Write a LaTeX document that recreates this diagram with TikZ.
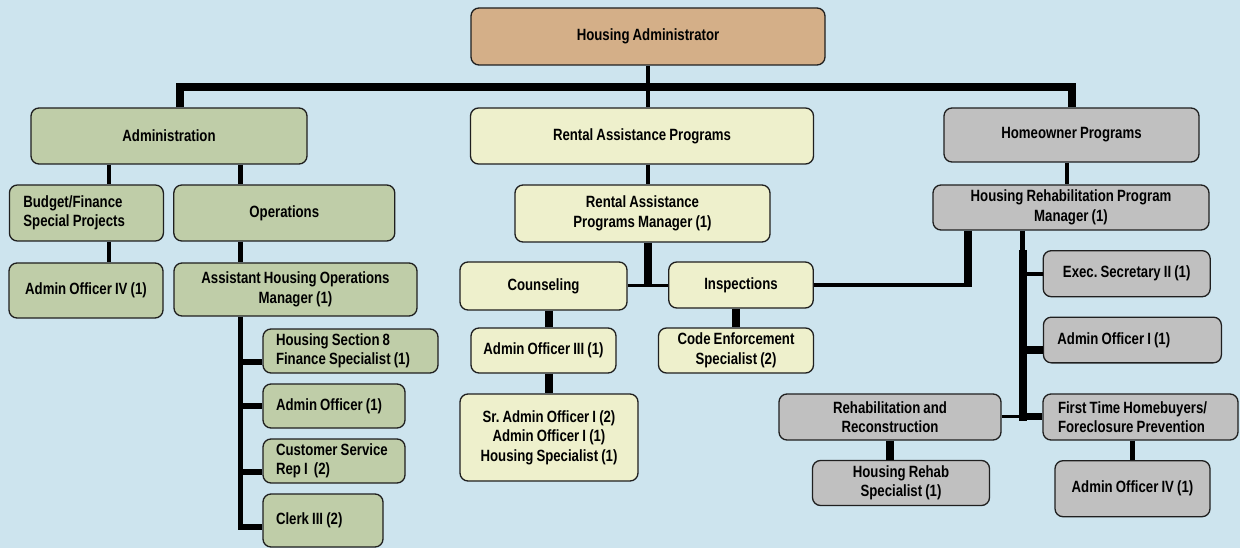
\documentclass[tikz,border=0pt]{standalone}
\usepackage{fontspec}
\setmainfont{Liberation Sans}[FakeStretch=0.81,WordSpace=0.85]
\definecolor{bgc}{RGB}{205,228,238}
\definecolor{tanc}{RGB}{212,175,136}
\definecolor{grnc}{RGB}{191,205,168}
\definecolor{ylwc}{RGB}{238,240,204}
\definecolor{gryc}{RGB}{192,192,192}
\tikzset{
  box/.style={draw=black!88, line width=1.3pt, rounded corners=8pt, inner sep=0pt,
    font=\fontsize{16.3}{19.5}\selectfont\bfseries\frenchspacing, align=center},
  sz/.style 2 args={minimum width=#1, minimum height=#2},
  lft/.style={align=flush left, text width=#1},
  tanbox/.style={box, fill=tanc},
  gbox/.style={box, fill=grnc},
  ybox/.style={box, fill=ylwc},
  kbox/.style={box, fill=gryc},
  wA/.style={draw=black, line width=3pt},
  wB/.style={draw=black, line width=4.2pt},
  wC/.style={draw=black, line width=6pt},
  wD/.style={draw=black, line width=7.5pt},
  wE/.style={draw=black, line width=8pt, line join=miter},
}
\begin{document}
\begin{tikzpicture}[x=1pt,y=-1pt]
\fill[bgc] (0,0) rectangle (1240,548);
\useasboundingbox (0,0) rectangle (1240,548);

% top level
\node[tanbox, sz={354pt}{57pt}] (ha) at (648,36.5) {Housing Administrator};
\node[gbox, sz={276pt}{56pt}] (adm) at (169,136) {Administration};
\node[ybox, sz={343pt}{56pt}] (rap) at (642,136) {Rental Assistance Programs};
\node[kbox, sz={255pt}{54pt}] (hp) at (1071.5,135) {Homeowner Programs};

% administration branch
\node[gbox, sz={154pt}{56pt}, lft=126pt] (bud) at (86.4,213) {Budget/Finance\\Special Projects};
\node[gbox, sz={221pt}{56pt}] (ops) at (284.3,213) {Operations};
\node[gbox, sz={154pt}{55pt}] (aoiv1) at (86,290.5) {Admin Officer IV (1)};
\node[gbox, sz={243pt}{53pt}] (asst) at (295.5,289.5) {Assistant Housing Operations\\Manager (1)};
\node[gbox, sz={175pt}{44pt}, lft=149pt] (hs8) at (350.5,351) {Housing Section 8\\Finance Specialist (1)};
\node[gbox, sz={142pt}{44pt}, lft=116pt] (ao1) at (334,406) {Admin Officer (1)};
\node[gbox, sz={142pt}{44pt}, lft=116pt] (csr) at (334,461) {Customer Service\\Rep I~~(2)};
\node[gbox, sz={120pt}{53pt}, lft=94pt] (clk) at (323,520.5) {Clerk III (2)};

% rental assistance branch
\node[ybox, sz={255pt}{57pt}] (rapm) at (642.5,213.5) {Rental Assistance\\Programs Manager (1)};
\node[ybox, sz={167pt}{48pt}] (coun) at (543.5,286) {Counseling};
\node[ybox, sz={144.5pt}{46pt}] (insp) at (741,285) {Inspections};
\node[ybox, sz={145pt}{45pt}] (aoiii) at (543.5,350.5) {Admin Officer III (1)};
\node[ybox, sz={178pt}{87pt}] (sr) at (549,437.5) {Sr. Admin Officer I (2)\\Admin Officer I (1)\\Housing Specialist (1)};
\node[ybox, sz={155pt}{45pt}] (code) at (736,350.5) {Code Enforcement\\Specialist (2)};

% homeowner branch
\node[kbox, sz={276pt}{45pt}] (hrpm) at (1071,207.5) {Housing Rehabilitation Program\\Manager (1)};
\node[kbox, sz={167pt}{46pt}] (exec) at (1126.7,273.7) {Exec. Secretary II (1)};
\node[kbox, sz={178pt}{45.7pt}, lft=150pt] (aoi2) at (1132.4,340) {Admin Officer I (1)};
\node[kbox, sz={195pt}{46pt}, lft=165pt] (ft) at (1140.5,417) {First Time Homebuyers/\\Foreclosure Prevention};
\node[kbox, sz={222pt}{46pt}] (rr) at (890,417) {Rehabilitation and\\Reconstruction};
\node[kbox, sz={177pt}{45pt}] (hrs) at (901,483) {Housing Rehab\\Specialist (1)};
\node[kbox, sz={155pt}{56pt}] (aoiv2) at (1132.5,488.7) {Admin Officer IV (1)};

% ---- connectors ----
\coordinate (barL) at (180,86.7);
\coordinate (barR) at (1072,86.7);
\draw[wE] (adm.north -| barL) -- (barL) -- (barR) -- (hp.north -| barR);
\draw[wB] (ha.south) -- (rap.north -| ha.south);

\coordinate (xa) at (109,0);
\coordinate (xb) at (240.5,0);
\draw[wB] (adm.south -| xa) -- (bud.north -| xa);
\draw[wB] (bud.south -| xa) -- (aoiv1.north -| xa);
\draw[wB] (adm.south -| xb) -- (ops.north -| xb);
\draw[wB] (ops.south -| xb) -- (asst.north -| xb);
\coordinate (b1) at (238.5,362);
\coordinate (b2) at (238.5,406);
\coordinate (b3) at (238.5,472);
\coordinate (b4) at (238.5,527);
\coordinate (vend) at (240.5,530);
\draw[wB] (asst.south -| xb) -- (vend);
\draw[wC] (b1) -- (b1 -| hs8.west);
\draw[wC] (b2) -- (b2 -| ao1.west);
\draw[wC] (b3) -- (b3 -| csr.west);
\draw[wC] (b4) -- (b4 -| clk.west);

% rental
\draw[wB] (rap.south -| ha.south) -- (rapm.north -| ha.south);
\coordinate (jm) at (648,285);
\coordinate (jm2) at (648,286.5);
\draw[wE] (rapm.south -| jm) -- (jm2);
\draw[wA] (coun.east |- jm) -- (insp.west |- jm);
\draw[wE] (coun.south -| sr) -- (aoiii.north -| sr);
\draw[wE] (aoiii.south -| sr) -- (sr.north);
\draw[wE] (insp.south -| code) -- (code.north);
\coordinate (jr) at (967.5,285);
\coordinate (jr2) at (967.5,287.2);
\draw[wB] (insp.east |- jr) -- (jr);
\draw[wE] (hrpm.south -| jr) -- (jr2);

% homeowner
\coordinate (xh) at (1067,0);
\draw[wB] (hp.south -| xh) -- (hrpm.north -| xh);
\coordinate (xv) at (1022.5,0);
\coordinate (v1) at (1022.5,250);
\coordinate (v2) at (1022.5,420.5);
\draw[wB] (hrpm.south -| xv) -- (v1);
\draw[wE] (v1) -- (v2);
\coordinate (e1) at (1022.5,274);
\coordinate (e2) at (1022.5,350);
\coordinate (e3) at (1022.5,416.5);
\draw[wB] (e1) -- (e1 -| exec.west);
\draw[wD] (e2) -- (e2 -| aoi2.west);
\draw[wD] (e3) -- (e3 -| ft.west);
\draw[wA] (rr.east |- e3) -- (e3);
\draw[wD] (rr.south) -- (hrs.north -| rr.south);
\draw[wB] (ft.south -| aoiv2) -- (aoiv2.north);
\end{tikzpicture}
\end{document}
